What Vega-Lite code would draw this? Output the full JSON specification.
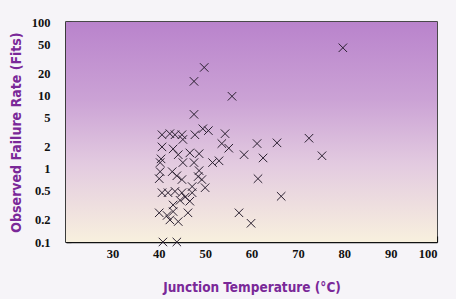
{
  "$schema": "https://vega.github.io/schema/vega-lite/v6.json",
  "width": 371,
  "height": 220,
  "autosize": {"type": "none"},
  "padding": {"left": 66, "top": 22, "right": 19, "bottom": 57},
  "background": "#f6f4f8",
  "config": {
    "view": {"stroke": "#111111", "strokeWidth": 1.5},
    "axis": {
      "labelFont": "Liberation Serif",
      "labelFontWeight": "bold",
      "labelFontSize": 12.5,
      "labelColor": "#111111",
      "titleFont": "'Liberation Sans Narrow', 'DejaVu Sans Condensed', 'Liberation Sans', sans-serif",
      "titleFontWeight": "bold",
      "titleColor": "#7a2898",
      "domainColor": "#111111",
      "domainWidth": 1.5,
      "tickColor": "#111111",
      "tickWidth": 1.2,
      "grid": false
    }
  },
  "data": {
    "values": [
      {"t": 79.7, "r": 44.5}, {"t": 49.8, "r": 24}, {"t": 47.6, "r": 15.5}, {"t": 55.8, "r": 9.7}, {"t": 47.6, "r": 5.5},
      {"t": 40.7, "r": 2.9}, {"t": 42.4, "r": 3.0}, {"t": 43.5, "r": 2.9}, {"t": 45.0, "r": 2.9}, {"t": 45.2, "r": 2.5},
      {"t": 47.8, "r": 2.9}, {"t": 49.5, "r": 3.5}, {"t": 50.7, "r": 3.3}, {"t": 54.3, "r": 3.0}, {"t": 53.6, "r": 2.2},
      {"t": 55.1, "r": 1.9}, {"t": 61.2, "r": 2.2}, {"t": 65.5, "r": 2.25}, {"t": 72.4, "r": 2.6}, {"t": 75.2, "r": 1.5},
      {"t": 58.4, "r": 1.55}, {"t": 62.5, "r": 1.4}, {"t": 51.6, "r": 1.21}, {"t": 53.0, "r": 1.28}, {"t": 61.4, "r": 0.73},
      {"t": 66.4, "r": 0.42}, {"t": 57.3, "r": 0.25}, {"t": 59.9, "r": 0.18},
      {"t": 40.7, "r": 1.98}, {"t": 43.1, "r": 1.86}, {"t": 44.2, "r": 1.55}, {"t": 46.7, "r": 1.64}, {"t": 48.7, "r": 1.6},
      {"t": 40.5, "r": 1.36}, {"t": 40.3, "r": 1.21}, {"t": 45.2, "r": 1.21}, {"t": 47.6, "r": 1.21},
      {"t": 40.3, "r": 0.91}, {"t": 42.9, "r": 0.91}, {"t": 43.9, "r": 0.8}, {"t": 45.0, "r": 0.71}, {"t": 48.7, "r": 0.94},
      {"t": 48.5, "r": 0.78}, {"t": 49.3, "r": 0.71}, {"t": 40.1, "r": 0.73}, {"t": 50.0, "r": 0.55}, {"t": 47.2, "r": 0.57},
      {"t": 40.7, "r": 0.47}, {"t": 42.0, "r": 0.47}, {"t": 43.5, "r": 0.49}, {"t": 45.0, "r": 0.47}, {"t": 47.2, "r": 0.47},
      {"t": 45.7, "r": 0.41}, {"t": 44.6, "r": 0.37}, {"t": 46.7, "r": 0.36}, {"t": 43.1, "r": 0.32}, {"t": 43.1, "r": 0.26},
      {"t": 40.1, "r": 0.25}, {"t": 41.8, "r": 0.23}, {"t": 42.4, "r": 0.2}, {"t": 44.2, "r": 0.19}, {"t": 46.3, "r": 0.25},
      {"t": 40.9, "r": 0.1}, {"t": 43.9, "r": 0.1}
    ]
  },
  "layer": [
    {
      "mark": {
        "type": "rect",
        "color": {
          "gradient": "linear", "x1": 0, "y1": 0, "x2": 0, "y2": 1,
          "stops": [
            {"offset": 0, "color": "#b983cc"},
            {"offset": 0.35, "color": "#cba2d5"},
            {"offset": 0.65, "color": "#e3cbe0"},
            {"offset": 1, "color": "#f8f0de"}
          ]
        }
      },
      "encoding": {
        "x": {"datum": 20, "type": "quantitative"},
        "x2": {"datum": 100},
        "y": {"datum": 0.1, "type": "quantitative"},
        "y2": {"datum": 100}
      }
    },
    {
      "mark": {
        "type": "point",
        "shape": "M-1,-1L1,1M1,-1L-1,1",
        "filled": false,
        "stroke": "#2a2030",
        "strokeWidth": 1,
        "size": 72,
        "opacity": 1,
        "clip": false
      },
      "encoding": {
        "x": {
          "field": "t", "type": "quantitative",
          "scale": {"domain": [20, 100], "nice": false, "zero": false},
          "axis": {
            "title": "Junction Temperature (°C)",
            "titleFontSize": 13.5,
            "values": [30, 40, 50, 60, 70, 80, 90, 100],
            "tickSize": -6,
            "labelPadding": 11,
            "titlePadding": 21
          }
        },
        "y": {
          "field": "r", "type": "quantitative",
          "scale": {"type": "log", "domain": [0.1, 100], "nice": false},
          "axis": {
            "title": "Observed Failure Rate (Fits)",
            "titleFontSize": 14,
            "values": [0.1, 0.2, 0.5, 1, 2, 5, 10, 20, 50, 100],
            "format": "~g",
            "tickSize": -5,
            "labelPadding": 21,
            "titlePadding": 8
          }
        }
      }
    }
  ]
}
